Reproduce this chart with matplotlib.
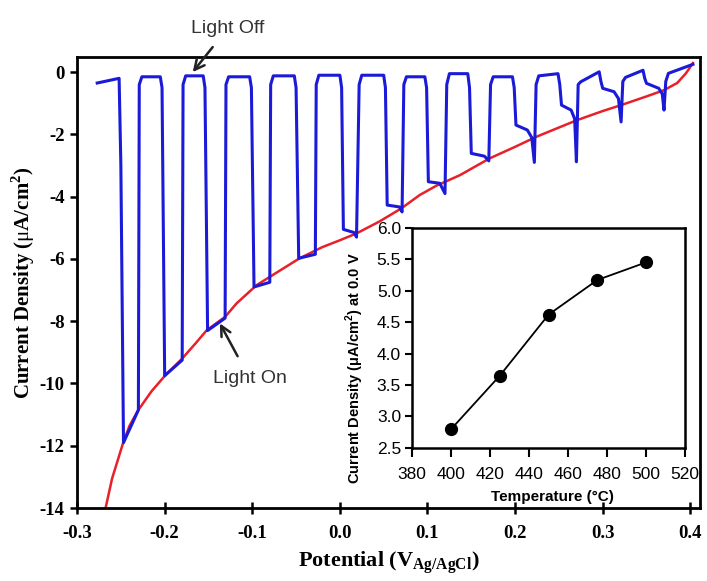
import numpy as np
import matplotlib
matplotlib.use("Agg")
import matplotlib.pyplot as plt

plt.rcParams["axes.unicode_minus"] = False
plt.rcParams["mathtext.fontset"] = "custom"
plt.rcParams["mathtext.rm"] = "Liberation Serif"
plt.rcParams["mathtext.bf"] = "Liberation Serif:bold"
plt.rcParams["mathtext.sf"] = "Liberation Sans:bold"

# photocurrent under chopped light (blue) and under continuous light (red)
chopped_v = [-0.277, -0.252, -0.250, -0.247, -0.230, -0.229, -0.226, -0.205,
             -0.203, -0.200, -0.180, -0.179, -0.176, -0.156,
             -0.154, -0.151, -0.131, -0.130, -0.127, -0.103,
             -0.101, -0.098, -0.080, -0.079, -0.076, -0.052,
             -0.050, -0.047, -0.028, -0.027, -0.024, 0.000,
             0.002, 0.004, 0.016, 0.019, 0.022, 0.025, 0.050,
             0.052, 0.054, 0.068, 0.071, 0.073, 0.076, 0.097,
             0.099, 0.101, 0.114, 0.120, 0.122, 0.125, 0.146,
             0.148, 0.150, 0.165, 0.170, 0.172, 0.175, 0.197,
             0.199, 0.201, 0.214, 0.219, 0.222, 0.224, 0.227, 0.249,
             0.251, 0.253, 0.264, 0.268, 0.270, 0.272, 0.275, 0.296,
             0.298, 0.300, 0.313, 0.318, 0.321, 0.323, 0.326, 0.346,
             0.348, 0.350, 0.364, 0.368, 0.370, 0.372, 0.375, 0.403]
chopped_j = [-0.35, -0.20, -3.0, -11.9, -10.85, -0.40, -0.15, -0.15,
             -0.50, -9.75, -9.25, -0.40, -0.12, -0.12,
             -0.50, -8.30, -7.90, -0.40, -0.15, -0.15,
             -0.50, -6.90, -6.75, -0.40, -0.12, -0.12,
             -0.50, -5.98, -5.85, -0.40, -0.10, -0.10,
             -0.50, -5.05, -5.15, -5.30, -0.40, -0.10, -0.10,
             -0.50, -4.27, -4.33, -4.49, -0.40, -0.15, -0.15,
             -0.50, -3.52, -3.57, -3.90, -0.40, -0.05, -0.05,
             -0.50, -2.61, -2.70, -2.85, -0.40, -0.15, -0.15,
             -0.50, -1.70, -1.86, -2.10, -2.90, -0.40, -0.12, -0.05,
             -0.40, -1.06, -1.22, -1.50, -2.88, -0.40, -0.31, 0.01,
             -0.30, -0.52, -0.63, -0.85, -1.60, -0.30, -0.17, 0.06,
             -0.20, -0.36, -0.52, -0.70, -1.22, -0.30, -0.04, 0.25]

light_v = [-0.268, -0.260, -0.247, -0.240, -0.230, -0.215, -0.199, -0.180,
           -0.165, -0.152, -0.131, -0.118, -0.095, -0.070, -0.046, -0.020,
           0.000, 0.019, 0.045, 0.070, 0.091, 0.110, 0.137, 0.171, 0.200,
           0.224, 0.250, 0.270, 0.300, 0.321, 0.350, 0.370, 0.385, 0.395,
           0.403]
light_j = [-14.07, -13.05, -11.87, -11.35, -10.85, -10.25, -9.73, -9.20,
           -8.72, -8.29, -7.86, -7.43, -6.84, -6.40, -5.98, -5.62,
           -5.40, -5.18, -4.80, -4.38, -3.95, -3.65, -3.31, -2.77, -2.40,
           -2.08, -1.78, -1.55, -1.25, -1.06, -0.78, -0.58, -0.35, -0.04,
           0.29]

# inset: current density at 0.0 V vs annealing temperature
temps = [400, 425, 450, 475, 500]
j_at_zero = [2.80, 3.65, 4.62, 5.17, 5.45]

x_ticks = [-0.3, -0.2, -0.1, 0.0, 0.1, 0.2, 0.3, 0.4]
y_ticks = [0, -2, -4, -6, -8, -10, -12, -14]
inset_x_ticks = [380, 400, 420, 440, 460, 480, 500, 520]
inset_y_ticks = [2.5, 3.0, 3.5, 4.0, 4.5, 5.0, 5.5, 6.0]

serif = "Liberation Serif"
sans = "Liberation Sans"

fig = plt.figure(figsize=(7.07, 5.81), dpi=100)
ax = fig.add_axes([0.109, 0.1256, 0.881, 0.776])

ax.plot(light_v, light_j, color="#e8202a", lw=1.8, zorder=2)
ax.plot(chopped_v, chopped_j, color="#1a1ad8", lw=2.2, zorder=3,
        solid_joinstyle="round")

ax.set_xlim(-0.3, 0.411)
ax.set_ylim(-14, 0.48)
ax.set_xticks(x_ticks)
ax.set_yticks(y_ticks)
ax.set_xticklabels([f"{t:.1f}" for t in x_ticks], fontfamily=serif,
                   fontweight="bold", fontsize=13.5)
ax.set_yticklabels([str(t) for t in y_ticks], fontfamily=serif,
                   fontweight="bold", fontsize=13.5)
ax.tick_params(axis="x", direction="inout", length=8, width=1.8, pad=8)
ax.tick_params(axis="y", direction="out", length=5, width=1.8, pad=4)
ax.tick_params(top=False, right=False)
for s in ax.spines.values():
    s.set_linewidth(2.0)

ax.set_xlabel(r"Potential (V$_{\mathbf{Ag/AgCl}}$)", fontfamily=serif,
              fontweight="bold", fontsize=16, labelpad=6)
ax.set_ylabel(r"Current Density ($\mathrm{\mu}$A/cm$^{\mathbf{2}}$)",
              fontfamily=serif, fontweight="bold", fontsize=15, labelpad=2)

ax.annotate("Light Off", xy=(-0.168, 0.0), xytext=(-0.128, 1.41),
            textcoords="data", ha="center", va="center", fontsize=14,
            fontfamily=sans, color="#333333", annotation_clip=False,
            arrowprops=dict(arrowstyle="->", color="#222222", lw=1.8,
                            shrinkA=7, shrinkB=0, mutation_scale=18))
ax.annotate("Light On", xy=(-0.137, -8.07), xytext=(-0.103, -9.84),
            textcoords="data", ha="center", va="center", fontsize=14,
            fontfamily=sans, color="#333333",
            arrowprops=dict(arrowstyle="->", color="#222222", lw=1.8,
                            shrinkA=9, shrinkB=0, mutation_scale=18))

# inset
ins = fig.add_axes([0.583, 0.229, 0.386, 0.379])
ins.plot(temps, j_at_zero, color="black", lw=1.3, marker="o", ms=8.5)
ins.set_xlim(380, 520)
ins.set_ylim(2.5, 6.0)
ins.set_xticks(inset_x_ticks)
ins.set_yticks(inset_y_ticks)
ins.set_xticklabels([str(t) for t in inset_x_ticks], fontfamily=sans,
                    fontsize=12.5)
ins.set_yticklabels([f"{t:.1f}" for t in inset_y_ticks], fontfamily=sans,
                    fontsize=12.5)
ins.tick_params(direction="out", length=5, width=1.5, pad=3)
ins.tick_params(axis="x", length=6.5, pad=7)
for s in ins.spines.values():
    s.set_linewidth(1.8)
ins.set_xlabel("Temperature (\u00b0C)", fontfamily=sans, fontsize=11,
               fontweight="bold")
ins.xaxis.set_label_coords(0.513, -0.19)
ins.set_ylabel(r"Current Density (μA/cm$^{\mathsf{2}}$) at 0.0 V",
               fontfamily=sans, fontsize=10.5, fontweight="bold")
ins.yaxis.set_label_coords(-0.17, 0.364)

fig.savefig("out.png", dpi=100)
